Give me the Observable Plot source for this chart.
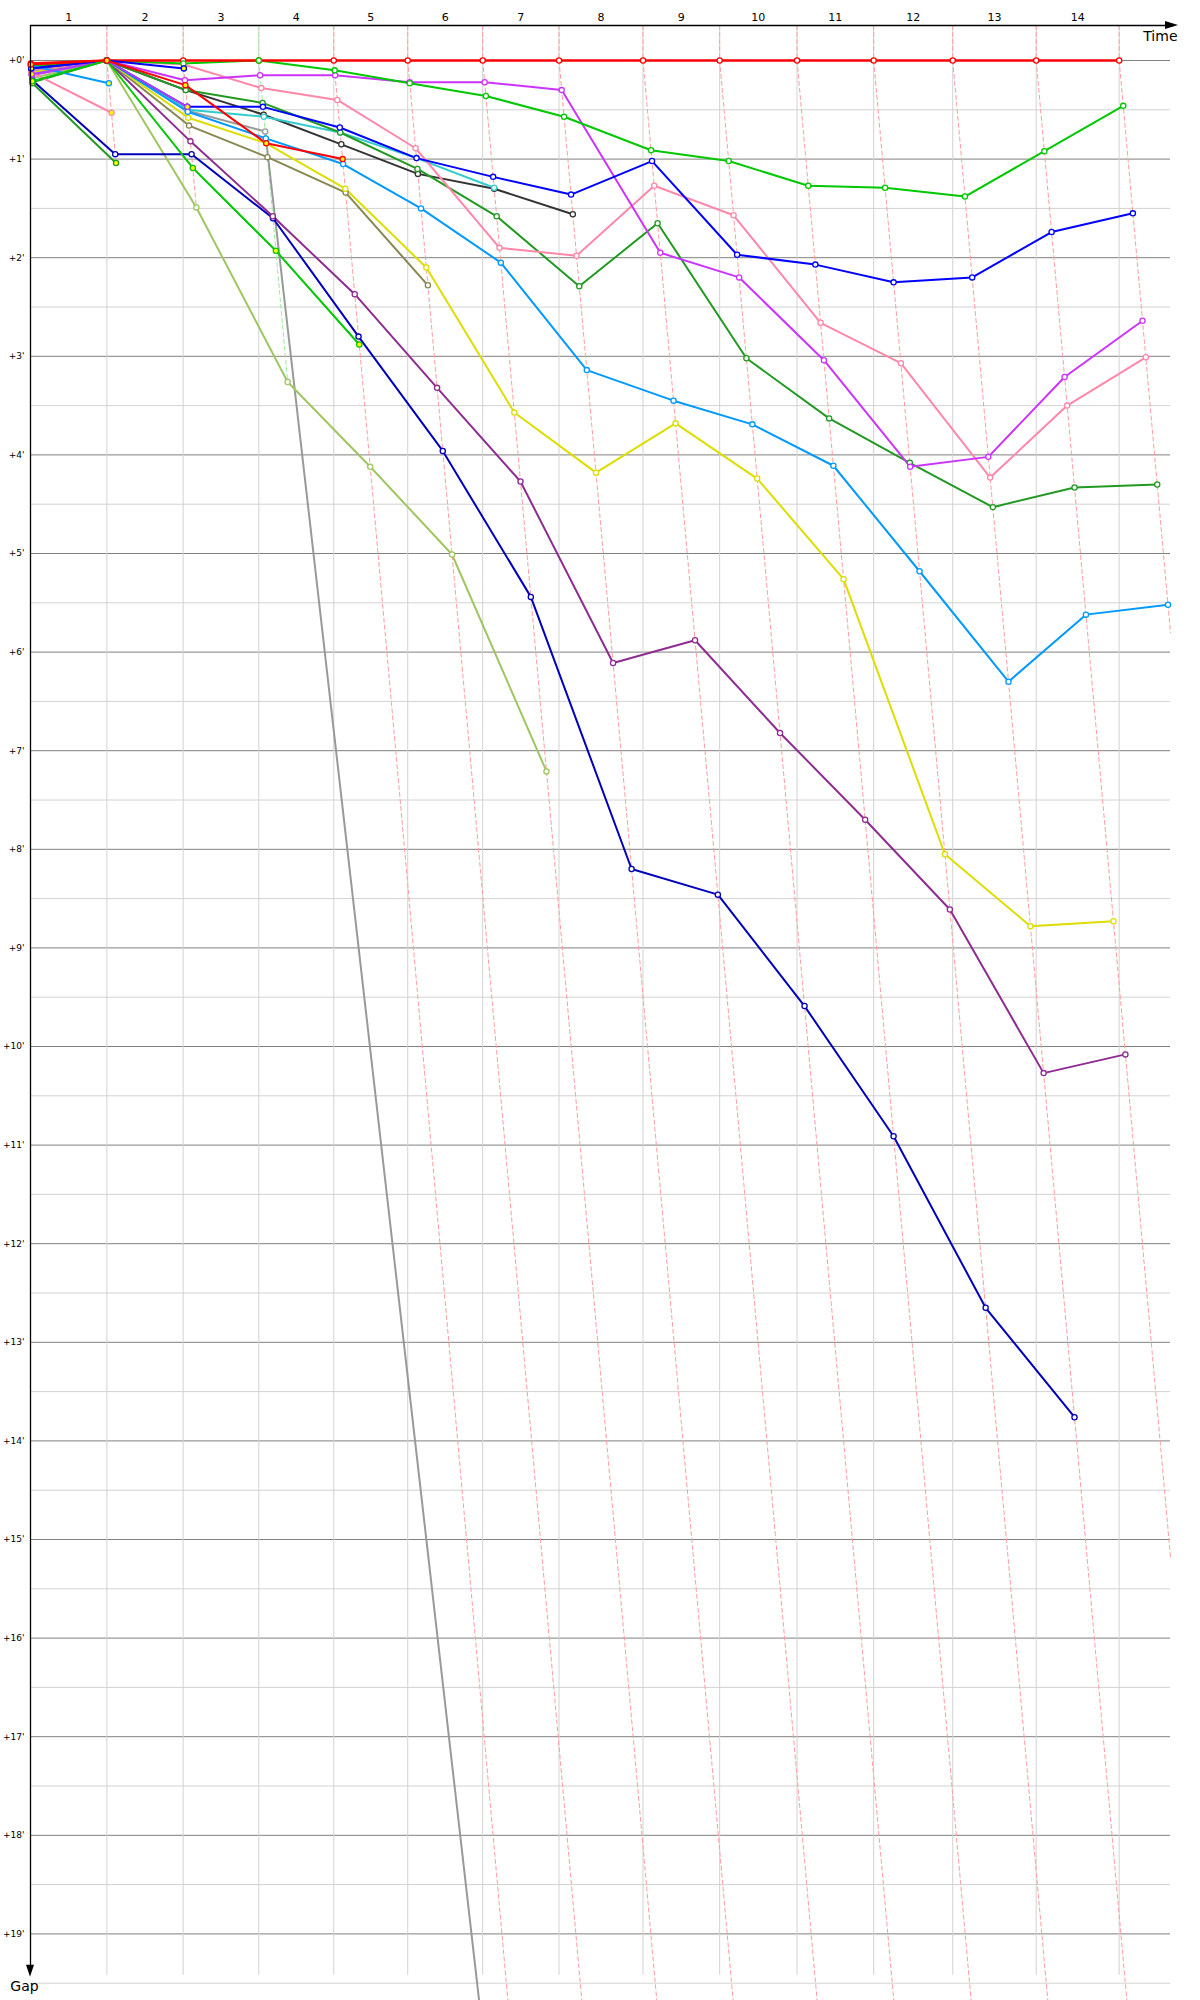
<!DOCTYPE html>
<html>
<head>
<meta charset="utf-8">
<script src="https://cdn.jsdelivr.net/npm/d3@7"></script>
<script src="https://cdn.jsdelivr.net/npm/@observablehq/plot@0.6"></script>
<style>
  body { margin: 0; background: #fff; }
  #chart svg { display: block; }
</style>
</head>
<body>
<div id="chart"></div>
<script>
// ---------- DATA ----------
const stageLabels = ["1","2","3","4","5","6","7","8","9","10","11","12","13","14"];
// duration of each stage (hours) – sets the width of each stage column
const stageHours = [4.49, 4.49, 4.45, 4.41, 4.35, 4.41, 4.49, 4.94, 4.51, 4.55, 4.51, 4.65, 4.91, 4.88];
const axisHours = 67.06;                 // length of the time axis
const gapShiftPerMinute = 0.5206;        // horizontal drift (h) per minute of gap
const gapTicks = d3.range(0, 20);
const gapTickLabels = gapTicks.map(m => `+${m}'`);
// leader (yellow jersey) after each stage – colours the dashed time guides
const stageLeader = ["red","red","green","red","red","red","red","red","red","red","red","red","red","red"];

// gap to the leader (minutes) at start and after stages 1..14 ; null = no longer shown
const gapsRed        = [0.03, 0, 0, 0, 0, 0, 0, 0, 0, 0, 0, 0, 0, 0, 0];
const gapsGreen      = [0.05, 0, 0.03, 0, 0.10, 0.23, 0.36, 0.57, 0.91, 1.02, 1.27, 1.29, 1.38, 0.92, 0.46];
const gapsBlue       = [0.08, 0, 0.47, 0.47, 0.68, 0.99, 1.18, 1.36, 1.02, 1.97, 2.07, 2.25, 2.20, 1.74, 1.55];
const gapsViolet     = [0.15, 0, 0.20, 0.15, 0.15, 0.22, 0.22, 0.30, 1.95, 2.20, 3.04, 4.12, 4.02, 3.21, 2.64];
const gapsPink       = [0.10, 0, 0.04, 0.28, 0.40, 0.89, 1.90, 1.98, 1.27, 1.57, 2.66, 3.07, 4.23, 3.50, 3.01];
const gapsForest     = [0.22, 0, 0.30, 0.43, 0.73, 1.10, 1.58, 2.29, 1.65, 3.02, 3.63, 4.08, 4.53, 4.33, 4.30];
const gapsSky        = [0.10, 0, 0.52, 0.79, 1.05, 1.50, 2.05, 3.14, 3.45, 3.69, 4.11, 5.18, 6.30, 5.62, 5.52];
const gapsYellow     = [0.12, 0, 0.58, 0.84, 1.30, 2.10, 3.57, 4.18, 3.68, 4.24, 5.26, 8.05, 8.78, 8.73, null];
const gapsPurple     = [0.14, 0, 0.82, 1.58, 2.37, 3.32, 4.27, 6.11, 5.88, 6.82, 7.70, 8.61, 10.27, 10.08, null];
const gapsNavy       = [0.20, 0.95, 0.95, 1.60, 2.80, 3.96, 5.44, 8.20, 8.46, 9.59, 10.91, 12.65, 13.76, null, null];
const gapsLightOlive = [0.18, 0, 1.49, 3.26, 4.12, 5.01, 7.21];
const gapsOlive      = [0.10, 0, 0.66, 0.98, 1.34, 2.28];
const gapsCharcoal   = [0.07, 0, 0.30, 0.55, 0.85, 1.15, 1.30, 1.56];
const gapsTurquoise  = [0.09, 0, 0.50, 0.57, 0.73, 0.99, 1.29];
const gapsGray       = [0.10, 0, 0.51, 0.72, 31.5];   // falls off the chart after stage 4
// riders who abandoned
const gapsRed2       = [0.04, 0, 0.25, 0.84, 1.00];
const gapsGreen2     = [0.21, 0, 1.09, 1.93, 2.88];
const gapsBlue2      = [0.08, 0, 0.08];
const gapsViolet2    = [0.14, 0, 0.47];
const gapsSky2       = [0.05, 0.23];
const gapsPink2      = [0.12, 0.53];
const gapsForest2    = [0.23, 1.04];

const riderNames = ["gray","olive","lightolive","charcoal","turquoise","navy","purple","yellow","sky","forest","pink","violet","blue","green","red",
                    "forest2","pink2","sky2","violet2","blue2","green2","red2"];
const riderColors = ["#999999","#878752","#9fc660","#333333","#33cccc","#0000bb","#8e2c91","#dddd00","#0099ff","#229922","#ff88aa","#cc33ff","#0000ff","#00c800","#ff0000",
                     "#229922","#ff88aa","#0099ff","#b040ff","#0000ff","#00c800","#ff0000"];
const riderAbandoned = [false,false,false,false,false,false,false,false,false,false,false,false,false,false,false,
                        true,true,true,true,true,true,true];
const riderGaps = [gapsGray, gapsOlive, gapsLightOlive, gapsCharcoal, gapsTurquoise, gapsNavy, gapsPurple, gapsYellow, gapsSky, gapsForest, gapsPink, gapsViolet, gapsBlue, gapsGreen, gapsRed,
                   gapsForest2, gapsPink2, gapsSky2, gapsViolet2, gapsBlue2, gapsGreen2, gapsRed2];

// ---------- BUILD ----------
const W = 1200, H = 2000, mL = 30, mR = 30, mT = 25, mB = 0;
const pxPerMinute = 98.6;
const gapTop = -(60 - mT) / pxPerMinute;
const gapBottom = (H - 60) / pxPerMinute;
const gridBottom = 19.42;

const cum = [0];
stageHours.forEach(h => cum.push(cum[cum.length - 1] + h));

const rows = [];
riderGaps.forEach((gs, k) => {
  gs.forEach((g, i) => {
    if (g == null) return;
    rows.push({
      name: riderNames[k], color: riderColors[k],
      fill: riderAbandoned[k] ? "#ffff00" : "#ffffff",
      order: k, stage: i, gap: g, t: cum[i] + g * gapShiftPerMinute
    });
  });
});
const dotRows = rows.slice().sort((a, b) => {
  const oa = a.name === "green" ? 14.5 : a.order, ob = b.name === "green" ? 14.5 : b.order;
  return oa - ob;
});

// riders still racing but beyond the bottom of the chart (from which stage on)
let offChartFrom = Infinity;
riderGaps.forEach((gs, k) => {
  const defined = gs.map((g, i) => [g, i]).filter(d => d[0] != null);
  const last = defined[defined.length - 1];
  if (!riderAbandoned[k] && last[0] > gapBottom) offChartFrom = Math.min(offChartFrom, last[1]);
});

const colorOf = n => riderColors[riderNames.indexOf(n)];
const guideRows = [];
cum.slice(1).forEach((c, j) => {
  const i = j + 1;
  const col = d3.interpolateRgb(colorOf(stageLeader[j]), "#ffffff")(0.62);
  let end = i >= offChartFrom ? gapBottom + 1
          : d3.max(riderGaps, gs => gs[i] == null ? -Infinity : gs[i]);
  end = Math.min(end, (axisHours - c) / gapShiftPerMinute);   // stay inside the frame
  [gapTop, 0, end].forEach(g => guideRows.push({b: i, gap: g, t: c + Math.max(g, 0) * gapShiftPerMinute, color: col}));
});

const font = "DejaVu Sans, Verdana, sans-serif";
const plot = Plot.plot({
  width: W, height: H,
  marginLeft: mL, marginRight: mR, marginTop: mT, marginBottom: mB,
  x: {domain: [0, axisHours], range: [mL, W - mR], axis: null},
  y: {domain: [gapTop, gapBottom], range: [mT, H - mB], axis: null},
  color: {type: "identity"},
  style: {fontFamily: font, background: "#ffffff", color: "#000"},
  marks: [
    Plot.ruleY(d3.range(0.5, 20, 1), {x1: 0, x2: axisHours, stroke: "#d2d2d2", strokeWidth: 1}),
    Plot.ruleY(gapTicks, {x1: 0, x2: axisHours, stroke: "#808080", strokeWidth: 1}),
    Plot.ruleX(cum.slice(1), {y1: gapTop, y2: gridBottom, stroke: "#d2d2d2", strokeWidth: 1}),
    Plot.line(guideRows, {x: "t", y: "gap", z: "b", stroke: "color", strokeWidth: 1, strokeDasharray: "4,3"}),
    Plot.line(rows, {x: "t", y: "gap", z: "name", stroke: "color", strokeWidth: d => d.name === "red" ? 2.4 : 2}),
    Plot.dot(dotRows, {x: "t", y: "gap", r: 2.6, stroke: "color", fill: "fill", strokeWidth: 1.3}),
    // axes
    Plot.ruleY([gapTop], {x1: 0, x2: axisHours + 0.2, stroke: "#000", strokeWidth: 1.3}),
    Plot.ruleX([0], {y1: gapTop, y2: gridBottom - 0.1, stroke: "#000", strokeWidth: 1.3}),
    Plot.text(stageLabels, {x: (d, i) => (cum[i] + cum[i + 1]) / 2, y: gapTop, dy: -8, fontSize: 11, fill: "#000"}),
    Plot.text(gapTickLabels, {x: 0, y: (d, i) => gapTicks[i], dx: -6, textAnchor: "end", fontSize: 9, fill: "#000"}),
    Plot.text(["Time"], {x: axisHours, y: gapTop, dx: 7, dy: 11, textAnchor: "end", fontSize: 14, fill: "#000"}),
    Plot.text(["Gap"], {x: 0, y: gridBottom, dx: -6, dy: 11, textAnchor: "middle", fontSize: 14, fill: "#000"})
  ]
});

// arrow heads on the two axes
const sx = d3.scaleLinear([0, axisHours], [mL, W - mR]);
const sy = d3.scaleLinear([gapTop, gapBottom], [mT, H - mB]);
const svg = d3.select(plot);
const xTip = sx(axisHours) + 8, yAx = sy(gapTop);
svg.append("path").attr("d", `M${xTip},${yAx} L${xTip - 13},${yAx - 4} L${xTip - 13},${yAx + 4} Z`).attr("fill", "#000");
const yTip = sy(gridBottom) + 2, xAx = sx(0);
svg.append("path").attr("d", `M${xAx},${yTip} L${xAx - 4},${yTip - 12} L${xAx + 4},${yTip - 12} Z`).attr("fill", "#000");

document.getElementById("chart").appendChild(plot);
</script>
</body>
</html>
